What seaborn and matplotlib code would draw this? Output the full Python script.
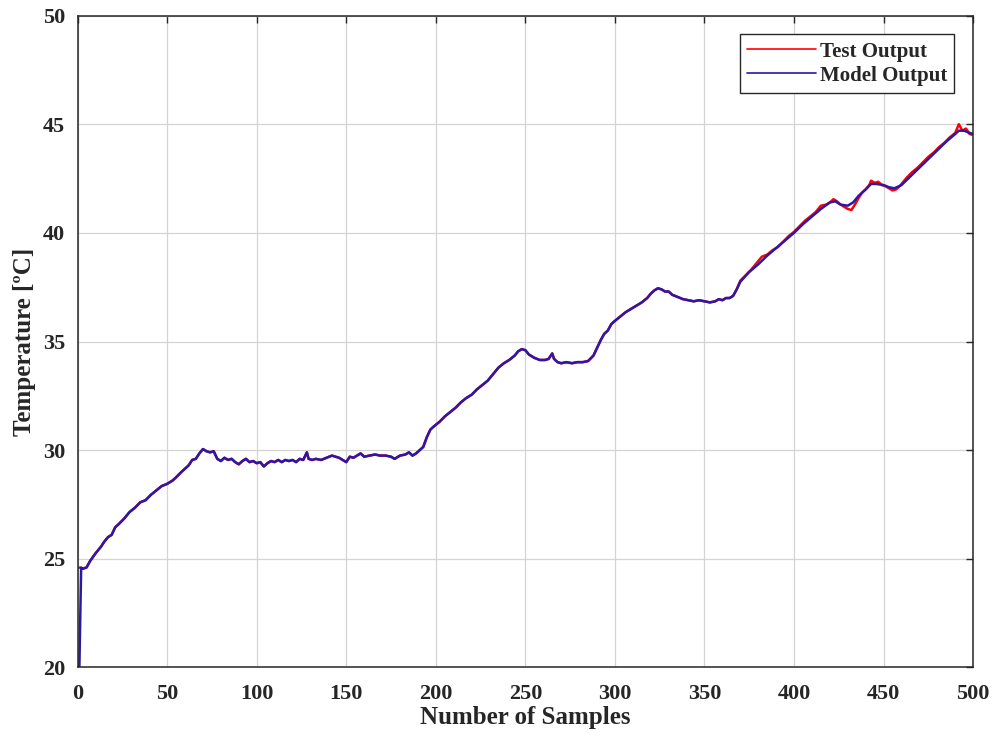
import matplotlib
matplotlib.use("Agg")
import matplotlib.pyplot as plt
import seaborn as sns
import pandas as pd

# ---------------- data ----------------
x_common = [1, 3, 5, 7, 10, 13, 15, 17, 19, 21, 23, 26, 29, 32, 35, 38, 41, 44, 47, 50,
            53, 55, 58, 60, 62, 64, 66, 68, 70, 72, 74, 76, 78, 80, 82, 84, 86, 88, 90, 92,
            94, 96, 98, 100, 102, 104, 106, 108, 110, 112, 114, 116, 118, 120, 122, 124, 126,
            128, 129, 131, 133, 136, 139, 142, 144, 146, 148, 150, 152, 154, 156, 158, 160,
            163, 166, 169, 172, 175, 177, 180, 183, 185, 187, 189, 191, 193, 195, 197, 199,
            202, 205, 208, 211, 214, 217, 220, 223, 226, 229, 232, 235, 238, 241, 244, 246,
            248, 250, 252, 255, 258, 261, 263, 265, 266, 268, 270, 273, 276, 279, 282, 285,
            288, 290, 292, 294, 296, 298, 300, 303, 306, 309, 312, 315, 318, 320, 322, 324,
            326, 328, 330, 332, 335, 338, 341, 344, 347, 350, 353, 356, 358, 360, 362, 364,
            366, 368]
y_common = [24.6, 24.55, 24.6, 24.9, 25.25, 25.55, 25.8, 26.0, 26.1, 26.45, 26.6, 26.85,
            27.15, 27.35, 27.6, 27.7, 27.95, 28.15, 28.35, 28.45, 28.6, 28.75, 29.0, 29.15,
            29.3, 29.55, 29.6, 29.85, 30.05, 29.95, 29.9, 29.95, 29.6, 29.5, 29.65, 29.55,
            29.6, 29.45, 29.35, 29.5, 29.6, 29.45, 29.5, 29.4, 29.45, 29.25, 29.4, 29.5,
            29.45, 29.55, 29.45, 29.55, 29.5, 29.55, 29.45, 29.6, 29.55, 29.9, 29.6, 29.55,
            29.6, 29.55, 29.65, 29.75, 29.7, 29.65, 29.55, 29.45, 29.7, 29.65, 29.75, 29.85,
            29.7, 29.75, 29.8, 29.75, 29.75, 29.7, 29.6, 29.75, 29.8, 29.9, 29.75, 29.85,
            30.0, 30.15, 30.6, 30.95, 31.1, 31.3, 31.55, 31.75, 31.95, 32.2, 32.4, 32.55,
            32.8, 33.0, 33.2, 33.5, 33.8, 34.0, 34.15, 34.35, 34.55, 34.65, 34.6, 34.4,
            34.25, 34.15, 34.15, 34.2, 34.45, 34.2, 34.05, 34.0, 34.05, 34.0, 34.05, 34.05,
            34.1, 34.35, 34.7, 35.05, 35.35, 35.5, 35.8, 35.95, 36.15, 36.35, 36.5, 36.65,
            36.8, 37.0, 37.2, 37.35, 37.45, 37.4, 37.3, 37.3, 37.15, 37.05, 36.95, 36.9,
            36.85, 36.9, 36.85, 36.8, 36.85, 36.95, 36.9, 37.0, 37.0, 37.1, 37.4]

test_tail_x = [370, 373, 376, 379, 382, 385, 388, 391, 394, 397, 400, 403, 406, 409, 412,
               415, 418, 420, 422, 424, 426, 428, 430, 432, 434, 436, 438, 440, 442, 443,
               445, 447, 449, 451, 453, 455, 457, 459, 461, 463, 466, 469, 472, 475, 478,
               481, 484, 487, 490, 492, 494, 496, 498, 500]
test_tail_y = [37.8, 38.05, 38.3, 38.6, 38.9, 39.0, 39.2, 39.35, 39.6, 39.85, 40.05, 40.3,
               40.55, 40.75, 40.95, 41.25, 41.3, 41.4, 41.55, 41.45, 41.3, 41.2, 41.1, 41.05,
               41.3, 41.6, 41.85, 42.0, 42.2, 42.4, 42.3, 42.35, 42.2, 42.15, 42.05, 41.95,
               42.0, 42.15, 42.35, 42.55, 42.8, 43.0, 43.25, 43.5, 43.7, 43.95, 44.15, 44.4,
               44.6, 45.0, 44.7, 44.8, 44.55, 44.5]

model_start_x = [1]
model_start_y = [20.0]
model_tail_x = [370, 375, 380, 385, 390, 395, 400, 405, 410, 415, 420, 423, 426, 430, 433,
                436, 440, 443, 446, 450, 453, 456, 460, 465, 470, 475, 480, 485, 490, 492,
                495, 498, 500]
model_tail_y = [37.75, 38.2, 38.55, 38.95, 39.3, 39.65, 40.0, 40.4, 40.75, 41.1, 41.4,
                41.45, 41.3, 41.25, 41.4, 41.7, 42.0, 42.25, 42.25, 42.2, 42.1, 42.05, 42.2,
                42.6, 43.0, 43.4, 43.8, 44.2, 44.55, 44.7, 44.7, 44.6, 44.55]

x_ticks = [0, 50, 100, 150, 200, 250, 300, 350, 400, 450, 500]
y_ticks = [20, 25, 30, 35, 40, 45, 50]

test_df = pd.DataFrame({"Sample": x_common + test_tail_x,
                        "Temperature": y_common + test_tail_y})
model_df = pd.DataFrame({"Sample": model_start_x + [2] + x_common[1:] + model_tail_x,
                         "Temperature": model_start_y + [24.6] + y_common[1:] + model_tail_y})

# ---------------- style ----------------
sns.set_theme(style="whitegrid")
plt.rcParams["font.family"] = ["Liberation Serif", "DejaVu Serif"]
plt.rcParams["font.weight"] = "bold"

fig = plt.figure(figsize=(9.92, 7.4), dpi=100)
ax = fig.add_axes([0.0782, 0.098, 0.9028, 0.881])

sns.lineplot(data=test_df, x="Sample", y="Temperature", ax=ax, color="#ff0000",
             linewidth=1.8, sort=False, estimator=None, label="Test Output")
sns.lineplot(data=model_df, x="Sample", y="Temperature", ax=ax, color="#2a18a8",
             linewidth=1.8, sort=False, estimator=None, label="Model Output")

ax.set_xlim(0, 500)
ax.set_ylim(20, 50)
ax.set_xticks(x_ticks)
ax.set_yticks(y_ticks)
ax.set_facecolor("white")
ax.grid(True, color="#d4d4d4", linewidth=0.9, linestyle="-")
for s in ax.spines.values():
    s.set_color("#262626")
    s.set_linewidth(1.1)
    s.set_visible(True)
ax.tick_params(direction="in", top=True, right=True, length=5, width=1,
               color="#262626", labelsize=16, labelcolor="#262626")
ax.tick_params(axis="x", pad=12)
ax.tick_params(axis="y", pad=9)
for lab in ax.get_xticklabels() + ax.get_yticklabels():
    lab.set_fontweight("bold")

ax.set_xlabel("Number of Samples", fontsize=18, fontweight="bold", color="#262626", labelpad=1)
ax.set_ylabel("Temperature [ºC]", fontsize=18, fontweight="bold", color="#262626", labelpad=5)

leg = ax.legend(loc="upper right", fontsize=15, frameon=True, fancybox=False,
                edgecolor="#262626", framealpha=1, borderaxespad=0.9, handlelength=3.3,
                handletextpad=0.2, labelspacing=0.2, borderpad=0.35,
                prop={"family": ["Liberation Serif"], "weight": "bold", "size": 15})
leg.get_frame().set_linewidth(1.0)
for h in leg.get_lines():
    h.set_linewidth(1.2)

fig.savefig("out.png", dpi=100, facecolor="white")
